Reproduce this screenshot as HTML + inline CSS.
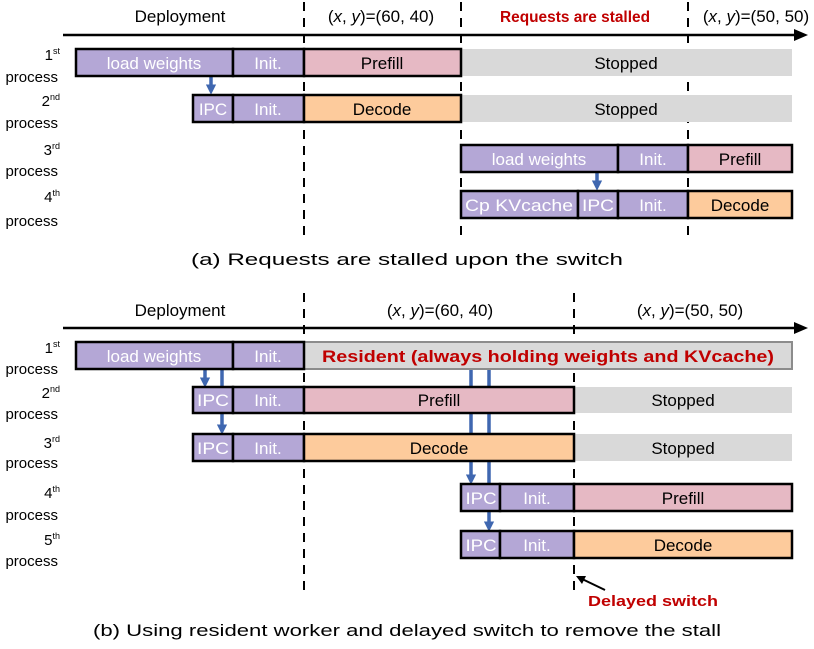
<!DOCTYPE html>
<html><head><meta charset="utf-8"><style>
html,body{margin:0;padding:0;background:#fff;}
svg{display:block;font-family:"Liberation Sans",sans-serif;}
.w{fill:#fff;font-size:17px;text-anchor:middle;}
.k{fill:#000;font-size:17px;text-anchor:middle;}
.lab{fill:#000;font-size:15px;text-anchor:end;}
.sup{font-size:9px;}
.pu{fill:#b4a7d6;stroke:#000;stroke-width:2.5;}
.pk{fill:#e6b9c4;stroke:#000;stroke-width:2.5;}
.or{fill:#fdcb9c;stroke:#000;stroke-width:2.5;}
.gr{fill:#d9d9d9;}
.ds{stroke:#000;stroke-width:2;stroke-dasharray:9,7;}
.bl{stroke:#3f67b0;stroke-width:3.5;}
</style></head><body>
<svg width="814" height="649" viewBox="0 0 814 649">
<defs>
<marker id="ba" markerWidth="3" markerHeight="3" refX="0.5" refY="1.5" orient="auto" markerUnits="strokeWidth"><path d="M0,0 L3,1.5 L0,3z" fill="#3f67b0"/></marker>
</defs>
<!-- (a) -->
<line class="ds" x1="304" y1="2" x2="304" y2="236"/>
<line class="ds" x1="461" y1="2" x2="461" y2="236"/>
<line class="ds" x1="688" y1="2" x2="688" y2="236"/>
<line x1="63" y1="35" x2="796" y2="35" stroke="#000" stroke-width="2.5"/>
<path d="M794,29 L808,35 L794,41z" fill="#000"/>
<text class="k" x="180" y="22" font-size="16">Deployment</text>
<text class="k" x="381" y="22" font-size="16">(<tspan font-style="italic">x</tspan>, <tspan font-style="italic">y</tspan>)=(60, 40)</text>
<text x="575" y="22" fill="#c00000" font-size="16" font-weight="bold" text-anchor="middle" textLength="150" lengthAdjust="spacingAndGlyphs">Requests are stalled</text>
<text class="k" x="756" y="22" font-size="16">(<tspan font-style="italic">x</tspan>, <tspan font-style="italic">y</tspan>)=(50, 50)</text>

<line class="bl" x1="211" y1="77" x2="211" y2="86" marker-end="url(#ba)"/>
<line class="bl" x1="597" y1="173" x2="597" y2="182" marker-end="url(#ba)"/>

<rect class="gr" x="461" y="49" width="331" height="27"/>
<rect class="gr" x="461" y="95" width="331" height="27"/>
<rect class="pu" x="76" y="49" width="157" height="27"/><text class="w" x="154" y="69">load weights</text>
<rect class="pu" x="233" y="49" width="71" height="27"/><text class="w" x="268" y="69">Init.</text>
<rect class="pk" x="304" y="49" width="157" height="27"/><text class="k" x="382" y="69">Prefill</text>
<text class="k" x="626" y="69">Stopped</text>
<rect class="pu" x="193" y="95" width="40" height="27"/><text class="w" x="213" y="115">IPC</text>
<rect class="pu" x="233" y="95" width="71" height="27"/><text class="w" x="268" y="115">Init.</text>
<rect class="or" x="304" y="95" width="157" height="27"/><text class="k" x="382" y="115">Decode</text>
<text class="k" x="626" y="115">Stopped</text>
<rect class="pu" x="461" y="145" width="157" height="27"/><text class="w" x="539" y="165">load weights</text>
<rect class="pu" x="618" y="145" width="70" height="27"/><text class="w" x="653" y="165">Init.</text>
<rect class="pk" x="688" y="145" width="104" height="27"/><text class="k" x="740" y="165">Prefill</text>
<rect class="pu" x="461" y="191" width="117" height="27"/><text class="w" x="519" y="211" textLength="108" lengthAdjust="spacingAndGlyphs">Cp KVcache</text>
<rect class="pu" x="578" y="191" width="40" height="27"/><text class="w" x="598" y="211" textLength="32" lengthAdjust="spacingAndGlyphs">IPC</text>
<rect class="pu" x="618" y="191" width="70" height="27"/><text class="w" x="653" y="211">Init.</text>
<rect class="or" x="688" y="191" width="104" height="27"/><text class="k" x="740" y="211">Decode</text>
<g class="lab">
<text x="60" y="60">1<tspan class="sup" dy="-6">st</tspan></text><text x="58" y="82">process</text>
<text x="60" y="106">2<tspan class="sup" dy="-6">nd</tspan></text><text x="58" y="128">process</text>
<text x="60" y="155">3<tspan class="sup" dy="-6">rd</tspan></text><text x="58" y="176">process</text>
<text x="60" y="202">4<tspan class="sup" dy="-6">th</tspan></text><text x="58" y="226">process</text>
</g>
<text class="k" x="407" y="265" font-size="19" textLength="432" lengthAdjust="spacingAndGlyphs">(a) Requests are stalled upon the switch</text>

<!-- (b) -->
<line class="ds" x1="304" y1="293" x2="304" y2="592"/>
<line class="ds" x1="574" y1="293" x2="574" y2="592"/>
<line x1="63" y1="328" x2="796" y2="328" stroke="#000" stroke-width="2.5"/>
<path d="M794,322 L808,328 L794,334z" fill="#000"/>
<text class="k" x="180" y="316" font-size="16">Deployment</text>
<text class="k" x="440" y="316" font-size="16">(<tspan font-style="italic">x</tspan>, <tspan font-style="italic">y</tspan>)=(60, 40)</text>
<text class="k" x="690" y="316" font-size="16">(<tspan font-style="italic">x</tspan>, <tspan font-style="italic">y</tspan>)=(50, 50)</text>

<line class="bl" x1="205" y1="370" x2="205" y2="379" marker-end="url(#ba)"/>
<line class="bl" x1="222" y1="370" x2="222" y2="426" marker-end="url(#ba)"/>
<line class="bl" x1="471" y1="370" x2="471" y2="476" marker-end="url(#ba)"/>
<line class="bl" x1="489" y1="370" x2="489" y2="523" marker-end="url(#ba)"/>

<rect x="304" y="342" width="488" height="27" fill="#d9d9d9" stroke="#8c8c8c" stroke-width="2"/>
<text x="548" y="362" fill="#c00000" font-size="17" font-weight="bold" text-anchor="middle" textLength="452" lengthAdjust="spacingAndGlyphs">Resident (always holding weights and KVcache)</text>
<rect class="pu" x="76" y="342" width="157" height="27"/><text class="w" x="154" y="362">load weights</text>
<rect class="pu" x="233" y="342" width="71" height="27"/><text class="w" x="268" y="362">Init.</text>

<rect class="gr" x="574" y="387" width="218" height="26"/><text class="k" x="683" y="406">Stopped</text>
<rect class="pu" x="193" y="387" width="40" height="26"/><text class="w" x="213" y="406" textLength="32" lengthAdjust="spacingAndGlyphs">IPC</text>
<rect class="pu" x="233" y="387" width="71" height="26"/><text class="w" x="268" y="406">Init.</text>
<rect class="pk" x="304" y="387" width="270" height="26"/><text class="k" x="439" y="406">Prefill</text>

<rect class="gr" x="574" y="434" width="218" height="27"/><text class="k" x="683" y="454">Stopped</text>
<rect class="pu" x="193" y="434" width="40" height="27"/><text class="w" x="213" y="454" textLength="32" lengthAdjust="spacingAndGlyphs">IPC</text>
<rect class="pu" x="233" y="434" width="71" height="27"/><text class="w" x="268" y="454">Init.</text>
<rect class="or" x="304" y="434" width="270" height="27"/><text class="k" x="439" y="454">Decode</text>

<rect class="pu" x="461" y="484" width="39" height="27"/><text class="w" x="481" y="504" textLength="31" lengthAdjust="spacingAndGlyphs">IPC</text>
<rect class="pu" x="500" y="484" width="74" height="27"/><text class="w" x="537" y="504">Init.</text>
<rect class="pk" x="574" y="484" width="218" height="27"/><text class="k" x="683" y="504">Prefill</text>

<rect class="pu" x="461" y="531" width="39" height="27"/><text class="w" x="481" y="551" textLength="31" lengthAdjust="spacingAndGlyphs">IPC</text>
<rect class="pu" x="500" y="531" width="74" height="27"/><text class="w" x="537" y="551">Init.</text>
<rect class="or" x="574" y="531" width="218" height="27"/><text class="k" x="683" y="551">Decode</text>

<line x1="605" y1="590" x2="580" y2="578" stroke="#000" stroke-width="2"/>
<path d="M576,576 L586,576 L582,584z" fill="#000"/>
<text x="653" y="606" fill="#c00000" font-size="15" font-weight="bold" text-anchor="middle" textLength="130" lengthAdjust="spacingAndGlyphs">Delayed switch</text>

<g class="lab">
<text x="60" y="353">1<tspan class="sup" dy="-6">st</tspan></text><text x="58" y="374">process</text>
<text x="60" y="398">2<tspan class="sup" dy="-6">nd</tspan></text><text x="58" y="419">process</text>
<text x="60" y="448">3<tspan class="sup" dy="-6">rd</tspan></text><text x="58" y="468">process</text>
<text x="60" y="498">4<tspan class="sup" dy="-6">th</tspan></text><text x="58" y="520">process</text>
<text x="60" y="545">5<tspan class="sup" dy="-6">th</tspan></text><text x="58" y="566">process</text>
</g>
<text class="k" x="407" y="636" font-size="19" textLength="628" lengthAdjust="spacingAndGlyphs">(b) Using resident worker and delayed switch to remove the stall</text>
</svg>
</body></html>
